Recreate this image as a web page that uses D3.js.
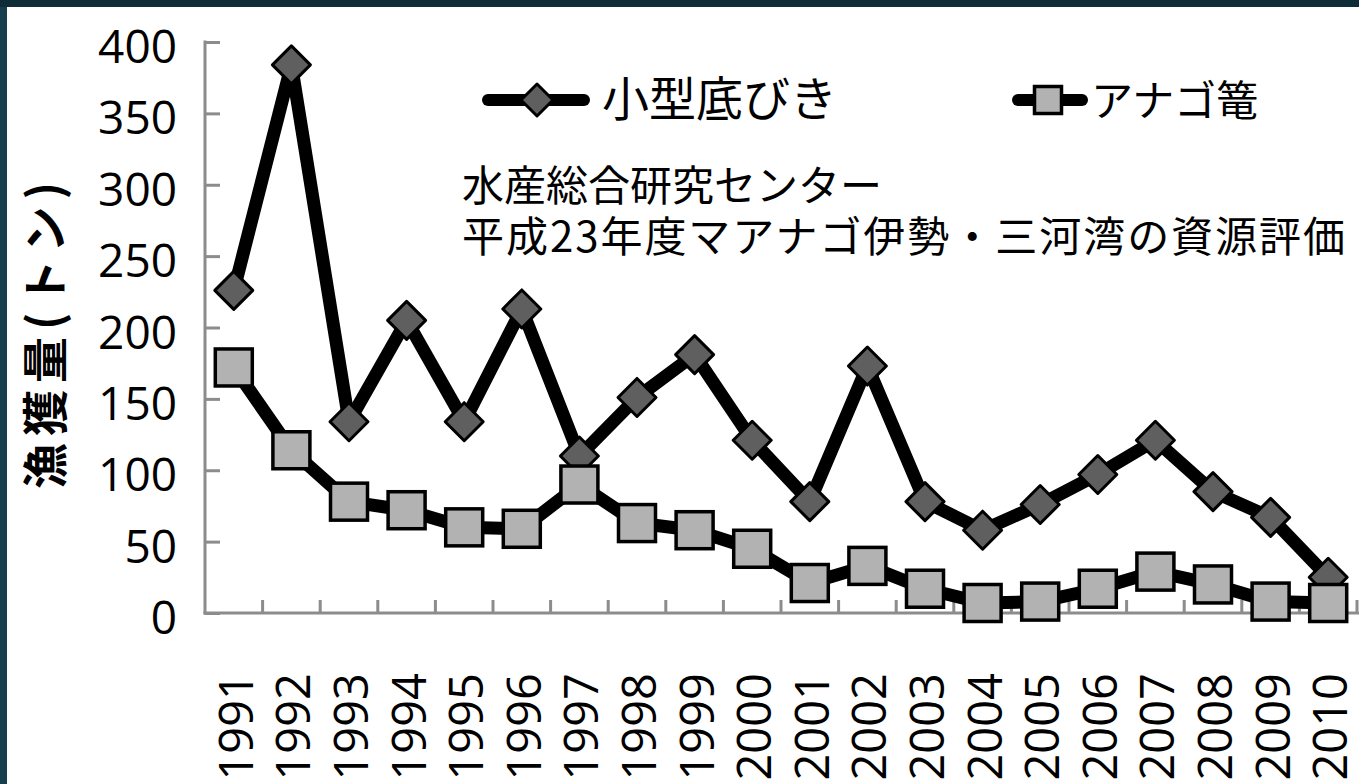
<html>
<head>
<meta charset="utf-8">
<title>漁獲量</title>
<script src="https://cdnjs.cloudflare.com/ajax/libs/d3/7.8.5/d3.min.js"></script>
<style>
  body { margin: 0; background: #ffffff; overflow: hidden; }
  text { fill: #000; }
  .num { font-family: "Open Sans", "Noto Sans", sans-serif; }
  .jp { font-family: "Noto Sans CJK JP", sans-serif; }
</style>
</head>
<body>
<div id="chart"></div>
<script>
var years = ["1991","1992","1993","1994","1995","1996","1997","1998","1999","2000",
             "2001","2002","2003","2004","2005","2006","2007","2008","2009","2010"];
var kogata = [226, 384, 134, 205, 134, 213, 110, 151, 181, 121, 78, 173, 78, 58, 76, 97, 121, 85, 67, 25];
var anago  = [172, 114, 78, 72, 60, 59, 90, 63, 58, 45, 21, 33, 17, 7, 8, 17, 29, 20, 8, 7];
var yTicks = [0, 50, 100, 150, 200, 250, 300, 350, 400];
var seriesNames = ["小型底びき", "アナゴ篭"];
var note = ["水産総合研究センター", "平成23年度マアナゴ伊勢・三河湾の資源評価"];
var yTitle = "漁獲量(トン)";

var W = 1359, H = 784;
var mLeft = 205, mRight = 1357, mTop = 42, mBottom = 613;

var svg = d3.select("#chart").append("svg")
    .attr("width", W).attr("height", H);

// frame
svg.append("rect").attr("width", W).attr("height", H).attr("fill", "#173e4d");
svg.append("rect").attr("width", W).attr("height", 7).attr("fill", "#0f2c39");
svg.append("rect").attr("x", 7).attr("y", 7).attr("width", W - 7).attr("height", H - 7).attr("fill", "#ffffff");

var x = d3.scaleBand().domain(years).range([mLeft, mRight]);
var y = d3.scaleLinear().domain([0, 400]).range([mBottom, mTop]);

// y axis
var yAxis = svg.append("g").attr("transform", "translate(" + mLeft + ",0)")
    .call(d3.axisRight(y).tickValues(yTicks).tickSize(15).tickFormat(""));
yAxis.select(".domain").remove();
yAxis.selectAll("line").attr("stroke", "#8c8c8c").attr("stroke-width", 3);
svg.append("line").attr("x1", mLeft).attr("x2", mLeft).attr("y1", mTop - 1.5).attr("y2", mBottom + 1.5)
    .attr("stroke", "#8c8c8c").attr("stroke-width", 3);

svg.selectAll(".ylab").data(yTicks).enter().append("text")
    .attr("class", "num")
    .attr("x", 177)
    .attr("y", function(d) { return y(d) + 3; })
    .attr("text-anchor", "end")
    .attr("dominant-baseline", "central")
    .style("font-size", "46px")
    .text(function(d) { return d; });

// x axis
var xb = years.map(function(d, i) { return mLeft + x.step() * (i + 1); });
svg.selectAll(".xt").data(xb).enter().append("line")
    .attr("x1", function(d) { return d; }).attr("x2", function(d) { return d; })
    .attr("y1", mBottom).attr("y2", mBottom - 13)
    .attr("stroke", "#8c8c8c").attr("stroke-width", 3);
svg.append("line").attr("x1", mLeft - 1.5).attr("x2", W).attr("y1", mBottom).attr("y2", mBottom)
    .attr("stroke", "#8c8c8c").attr("stroke-width", 3);

svg.selectAll(".xlab").data(years).enter().append("text")
    .attr("class", "num")
    .attr("transform", function(d) {
        return "translate(" + (x(d) + x.bandwidth() / 2 + 2) + ",673) rotate(-90)";
    })
    .attr("text-anchor", "end")
    .attr("dy", "0.36em")
    .style("font-size", "47px")
    .text(function(d) { return d; });

// y title
svg.append("text")
    .attr("class", "jp")
    .attr("transform", "translate(42,332) rotate(-90)")
    .attr("text-anchor", "middle")
    .attr("dominant-baseline", "central")
    .style("font-size", "46px")
    .style("font-weight", "bold")
    .style("letter-spacing", "7px")
    .text(yTitle);

// lines
var line = d3.line()
    .x(function(d, i) { return x(years[i]) + x.bandwidth() / 2; })
    .y(function(d) { return y(d); });

function diamond(g, cx, cy, r) {
    g.append("path")
        .attr("d", "M" + cx + "," + (cy - r) + "L" + (cx + r) + "," + cy + "L" + cx + "," + (cy + r) + "L" + (cx - r) + "," + cy + "Z")
        .attr("fill", "#5f5f5f").attr("stroke", "#000").attr("stroke-width", 3)
        .attr("stroke-linejoin", "round");
}
function square(g, cx, cy, s) {
    g.append("rect")
        .attr("x", cx - s / 2).attr("y", cy - s / 2).attr("width", s).attr("height", s)
        .attr("fill", "#b2b2b2").attr("stroke", "#000").attr("stroke-width", 3.5);
}

var g1 = svg.append("g");
g1.append("path").datum(kogata).attr("d", line)
    .attr("fill", "none").attr("stroke", "#000").attr("stroke-width", 13)
    .attr("stroke-linejoin", "round");
kogata.forEach(function(d, i) {
    diamond(g1, x(years[i]) + x.bandwidth() / 2, y(d), 19);
});

var g2 = svg.append("g");
g2.append("path").datum(anago).attr("d", line)
    .attr("fill", "none").attr("stroke", "#000").attr("stroke-width", 13)
    .attr("stroke-linejoin", "round");
anago.forEach(function(d, i) {
    square(g2, x(years[i]) + x.bandwidth() / 2, y(d), 37);
});

// legend
var lg = svg.append("g");
lg.append("line").attr("x1", 488).attr("x2", 584).attr("y1", 100).attr("y2", 100)
    .attr("stroke", "#000").attr("stroke-width", 12).attr("stroke-linecap", "round");
diamond(lg, 537, 100, 16);
lg.append("text").attr("class", "jp").attr("x", 602).attr("y", 116)
    .style("font-size", "47px").text(seriesNames[0]);

lg.append("line").attr("x1", 1018).attr("x2", 1082).attr("y1", 100).attr("y2", 100)
    .attr("stroke", "#000").attr("stroke-width", 12).attr("stroke-linecap", "round");
square(lg, 1048, 100, 27);
lg.append("text").attr("class", "jp").attr("x", 1091).attr("y", 116)
    .style("font-size", "42px").text(seriesNames[1]);

// note
svg.selectAll(".note").data(note).enter().append("text")
    .attr("class", "jp")
    .attr("x", 462)
    .attr("y", function(d, i) { return 201 + i * 51; })
    .style("font-size", "42px")
    .attr("textLength", function(d, i) { return i === 1 ? 883 : null; })
    .attr("lengthAdjust", "spacing")
    .text(function(d) { return d; });
</script>
</body>
</html>
